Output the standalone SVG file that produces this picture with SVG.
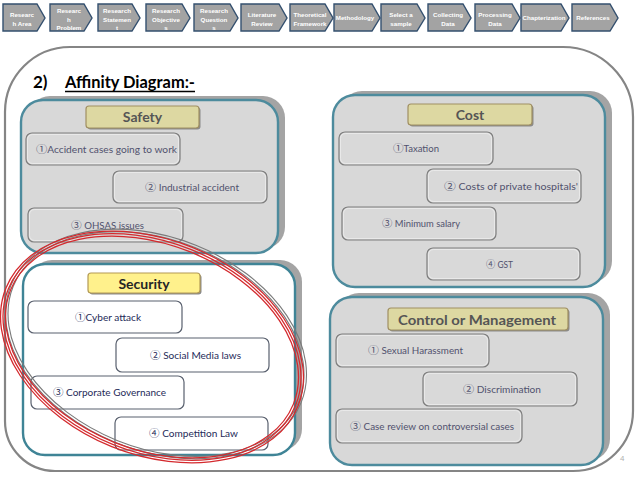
<svg xmlns="http://www.w3.org/2000/svg" width="638" height="479" viewBox="0 0 638 479">
<defs>
<style>
.nav path{fill:#a3a3a3;stroke:#34506f;stroke-width:1.4}
.nav text{font-family:"Liberation Sans",Arial,sans-serif;font-weight:bold;font-size:6.2px;fill:#ffffff;text-anchor:middle}
.frame{fill:#ffffff;stroke:#858585;stroke-width:2.2}
.grp{fill:#d8d8d8;stroke:#4d8b9d;stroke-width:2.4}
.grpw{fill:#ffffff;stroke:#3f8496;stroke-width:2.4}
.shadow{fill:#a4a4a4}
.ttl{fill:#ddd8a2;stroke:#a08f62;stroke-width:1.2}
.ttly{fill:#fff18c;stroke:#b39a55;stroke-width:1.2}
.tsh{fill:#8a8a8a}
.ttxt{font-family:Lato,"Liberation Sans",sans-serif;font-weight:bold;font-size:14px;fill:#555555;text-anchor:middle}
.ttxtd{font-family:Lato,"Liberation Sans",sans-serif;font-weight:bold;font-size:14px;fill:#262626;text-anchor:middle}
.item{fill:#d9d9d9;stroke:#7d7d7d;stroke-width:1.2}
.itemin{fill:none;stroke:#eeeeee;stroke-width:0.8}
.itemw{fill:#ffffff;stroke:#59606e;stroke-width:1.2}
.itxt{font-family:Lato,"Noto Sans CJK JP","DejaVu Sans",sans-serif;font-size:9px;fill:#51526e}
.itxtd{font-family:Lato,"Noto Sans CJK JP","DejaVu Sans",sans-serif;font-size:9.5px;fill:#1e2a58}
.cd{font-family:"Noto Sans CJK JP","DejaVu Sans",sans-serif;font-size:10px}
.red{fill:none;stroke:#d42a2e;stroke-width:1.3}
.gry{fill:none;stroke:#7a7a7a;stroke-width:1.1}
</style>
</defs>
<rect width="638" height="479" fill="#ffffff"/>

<g id="nav" class="nav">
<g id="nav1"><path d="M3,4 H37 L45,18 L37,31 H3 Z"/><text x="22" y="17">Researc</text><text x="22" y="26">h Area</text></g>
<g id="nav2"><path d="M50,4 H84 L92,18 L84,31 H50 Z"/><text x="69" y="13">Researc</text><text x="69" y="21.5">h</text><text x="69" y="30">Problem</text></g>
<g id="nav3"><path d="M98,4 H132 L140,18 L132,31 H98 Z"/><text x="117" y="13">Research</text><text x="117" y="21.5">Statemen</text><text x="117" y="30">t</text></g>
<g id="nav4"><path d="M146,4 H182 L190,18 L182,31 H146 Z"/><text x="166" y="13">Research</text><text x="166" y="21.5">Objective</text><text x="166" y="30">s</text></g>
<g id="nav5"><path d="M194,4 H230 L238,18 L230,31 H194 Z"/><text x="214" y="13">Research</text><text x="214" y="21.5">Question</text><text x="214" y="30">s</text></g>
<g id="nav6"><path d="M241,4 H279 L287,18 L279,31 H241 Z"/><text x="262" y="17">Literature</text><text x="262" y="26">Review</text></g>
<g id="nav7"><path d="M290,4 H325 L333,18 L325,31 H290 Z"/><text x="310" y="17">Theoretical</text><text x="310" y="26">Framework</text></g>
<g id="nav8"><path d="M334,4 H372 L380,18 L372,31 H334 Z"/><text x="355" y="20">Methodology</text></g>
<g id="nav9"><path d="M381,4 H417 L425,18 L417,31 H381 Z"/><text x="401" y="17">Select a</text><text x="401" y="26">sample</text></g>
<g id="nav10"><path d="M428,4 H463 L471,18 L463,31 H428 Z"/><text x="448" y="17">Collecting</text><text x="448" y="26">Data</text></g>
<g id="nav11"><path d="M475,4 H512 L520,18 L512,31 H475 Z"/><text x="495" y="17">Processing</text><text x="495" y="26">Data</text></g>
<g id="nav12"><path d="M521,4 H561 L569,18 L561,31 H521 Z"/><text x="544" y="20">Chapterization</text></g>
<g id="nav13"><path d="M572,4 H610 L618,18 L610,31 H572 Z"/><text x="593" y="20">References</text></g>
</g>

<path id="frame" class="frame" d="M5,112 A65,65 0 0 1 70,47 L563,47 A70,70 0 0 1 633,117 L633,411 A60,60 0 0 1 573,471 L55,471 A50,50 0 0 1 5,421 Z"/>

<g id="heading">
<text x="33" y="88" font-family="Lato,'Liberation Sans',sans-serif" font-weight="bold" font-size="17" fill="#000">2)</text>
<text x="65" y="88" font-family="Lato,'Liberation Sans',sans-serif" font-weight="bold" font-size="17" fill="#000" textLength="130" lengthAdjust="spacingAndGlyphs">Affinity Diagram:-</text>
<line x1="65" y1="91.5" x2="195" y2="91.5" stroke="#000" stroke-width="1.3"/>
</g>

<g id="safety">
<rect class="shadow" x="28" y="96" width="257" height="153" rx="22"/>
<rect class="grp" x="21" y="100" width="257" height="153" rx="22"/>
<rect class="tsh" x="87.5" y="107.5" width="113" height="22" rx="3"/>
<rect class="ttl" x="86" y="106" width="113" height="22" rx="3"/>
<text class="ttxt" x="142.5" y="122">Safety</text>
<g id="safety1"><rect class="item" x="26" y="133" width="154" height="32" rx="6"/><rect class="itemin" x="27.5" y="134.5" width="151" height="29" rx="5"/><text class="itxt" x="36" y="152.5" textLength="141" lengthAdjust="spacingAndGlyphs"><tspan class="cd">①</tspan>Accident cases going to work</text></g>
<g id="safety2"><rect class="item" x="113" y="171" width="154" height="32" rx="6"/><rect class="itemin" x="114.5" y="172.5" width="151" height="29" rx="5"/><text class="itxt" x="145" y="190.5" textLength="94" lengthAdjust="spacingAndGlyphs"><tspan class="cd">②</tspan> Industrial accident</text></g>
<g id="safety3"><rect class="item" x="28" y="208" width="155" height="34" rx="6"/><rect class="itemin" x="29.5" y="209.5" width="152" height="31" rx="5"/><text class="itxt" x="71" y="228.5" textLength="73" lengthAdjust="spacingAndGlyphs"><tspan class="cd">③</tspan> OHSAS issues</text></g>
</g>

<g id="cost">
<rect class="shadow" x="340" y="91" width="272" height="192" rx="22"/>
<rect class="grp" x="333" y="95" width="272" height="192" rx="22"/>
<rect class="tsh" x="409.5" y="105.5" width="124" height="21" rx="3"/>
<rect class="ttl" x="408" y="104" width="124" height="21" rx="3"/>
<text class="ttxt" x="470" y="120">Cost</text>
<g id="cost1"><rect class="item" x="339" y="132" width="154" height="33" rx="6"/><rect class="itemin" x="340.5" y="133.5" width="151" height="30" rx="5"/><text class="itxt" x="393" y="152" textLength="46" lengthAdjust="spacingAndGlyphs"><tspan class="cd">①</tspan>Taxation</text></g>
<g id="cost2"><rect class="item" x="427" y="169" width="154" height="34" rx="6"/><rect class="itemin" x="428.5" y="170.5" width="151" height="31" rx="5"/><text class="itxt" x="444" y="189.5" textLength="134" lengthAdjust="spacingAndGlyphs"><tspan class="cd">②</tspan> Costs of private hospitals'</text></g>
<g id="cost3"><rect class="item" x="342" y="207" width="154" height="33" rx="6"/><rect class="itemin" x="343.5" y="208.5" width="151" height="30" rx="5"/><text class="itxt" x="382" y="227" textLength="78" lengthAdjust="spacingAndGlyphs"><tspan class="cd">③</tspan> Minimum salary</text></g>
<g id="cost4"><rect class="item" x="427" y="248" width="153" height="32" rx="6"/><rect class="itemin" x="428.5" y="249.5" width="150" height="29" rx="5"/><text class="itxt" x="486" y="267.5" textLength="27" lengthAdjust="spacingAndGlyphs"><tspan class="cd">④</tspan> GST</text></g>
</g>

<g id="security">
<rect class="shadow" x="30" y="260" width="272" height="191" rx="22"/>
<rect class="grpw" x="23" y="264" width="272" height="191" rx="22"/>
<rect class="tsh" x="89.5" y="274.5" width="112" height="20" rx="3"/>
<rect class="ttly" x="88" y="273" width="112" height="20" rx="3"/>
<text class="ttxtd" x="144" y="288.5">Security</text>
<g id="security1"><rect class="itemw" x="28" y="301" width="154" height="32" rx="6"/><text class="itxtd" x="75" y="320.5" textLength="66" lengthAdjust="spacingAndGlyphs"><tspan class="cd">①</tspan>Cyber attack</text></g>
<g id="security2"><rect class="itemw" x="116" y="338" width="153" height="34" rx="6"/><text class="itxtd" x="150" y="358.5" textLength="91" lengthAdjust="spacingAndGlyphs"><tspan class="cd">②</tspan> Social Media laws</text></g>
<g id="security3"><rect class="itemw" x="31" y="376" width="153" height="33" rx="6"/><text class="itxtd" x="53" y="396" textLength="113" lengthAdjust="spacingAndGlyphs"><tspan class="cd">③</tspan> Corporate Governance</text></g>
<g id="security4"><rect class="itemw" x="115" y="417" width="153" height="33" rx="6"/><text class="itxtd" x="149" y="437" textLength="89" lengthAdjust="spacingAndGlyphs"><tspan class="cd">④</tspan> Competition Law</text></g>
</g>

<g id="control">
<rect class="shadow" x="337" y="293" width="273" height="168" rx="22"/>
<rect class="grp" x="330" y="297" width="273" height="168" rx="22"/>
<rect class="tsh" x="389.5" y="309.5" width="180" height="22" rx="3"/>
<rect class="ttl" x="388" y="308" width="180" height="22" rx="3"/>
<text class="ttxt" x="477" y="325" textLength="158" lengthAdjust="spacingAndGlyphs">Control or Management</text>
<g id="control1"><rect class="item" x="336" y="334" width="153" height="33" rx="6"/><rect class="itemin" x="337.5" y="335.5" width="150" height="30" rx="5"/><text class="itxt" x="368" y="354" textLength="95" lengthAdjust="spacingAndGlyphs"><tspan class="cd">①</tspan> Sexual Harassment</text></g>
<g id="control2"><rect class="item" x="423" y="372" width="154" height="34" rx="6"/><rect class="itemin" x="424.5" y="373.5" width="151" height="31" rx="5"/><text class="itxt" x="463" y="392.5" textLength="78" lengthAdjust="spacingAndGlyphs"><tspan class="cd">②</tspan> Discrimination</text></g>
<g id="control3"><rect class="item" x="336" y="409" width="186" height="34" rx="6"/><rect class="itemin" x="337.5" y="410.5" width="183" height="31" rx="5"/><text class="itxt" x="350" y="429.5" textLength="164" lengthAdjust="spacingAndGlyphs"><tspan class="cd">③</tspan> Case review on controversial cases</text></g>
</g>

<g id="highlight">
<g transform="translate(156,344) rotate(22)">
<ellipse class="gry" cx="0" cy="0" rx="154" ry="104"/>
<ellipse class="gry" cx="0" cy="0" rx="156.5" ry="106.5"/>
</g>
<g transform="translate(152,347) rotate(22)">
<ellipse class="red" cx="0" cy="0" rx="152.5" ry="102.5"/>
<ellipse class="red" cx="0" cy="0" rx="155" ry="105"/>
<ellipse class="red" cx="0" cy="0" rx="157.5" ry="107.5"/>
</g>
</g>

<text x="620" y="461" font-family="'Liberation Sans',sans-serif" font-size="8" fill="#b0b0b0">4</text>
</svg>
